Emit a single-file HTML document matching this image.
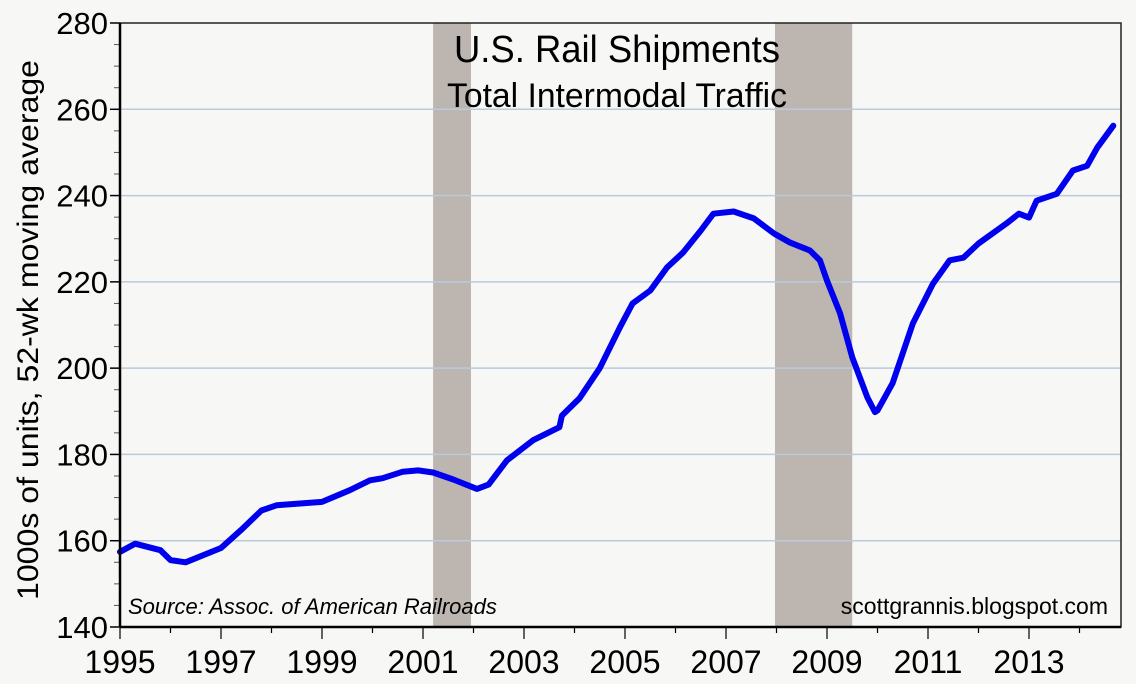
<!DOCTYPE html>
<html><head><meta charset="utf-8"><style>
html,body{margin:0;padding:0;background:#f7f7f5;}
svg{display:block;font-family:"Liberation Sans",sans-serif;}
</style></head><body>
<svg id="chart" width="1136" height="684" viewBox="0 0 1136 684">
<rect x="0" y="0" width="1136" height="684" fill="#f7f7f5"/>
<g id="rec"></g>
<g id="grid"></g>
<g id="series"></g>
<g id="axes"></g>
<text x="617" y="62" font-size="38" text-anchor="middle" textLength="326" lengthAdjust="spacingAndGlyphs">U.S. Rail Shipments</text>
<text x="617" y="107" font-size="34" text-anchor="middle" textLength="340" lengthAdjust="spacingAndGlyphs">Total Intermodal Traffic</text>
<text x="128" y="614" font-size="22" font-style="italic">Source: Assoc. of American Railroads</text>
<text x="1108" y="614" font-size="23" text-anchor="end">scottgrannis.blogspot.com</text>
<text transform="translate(38,330) rotate(-90)" font-size="30" text-anchor="middle" textLength="540" lengthAdjust="spacingAndGlyphs">1000s of units, 52-wk moving average</text>
</svg>
<script>
const years = [1995.0,1995.3,1995.8,1996.0,1996.3,1997.0,1997.4,1997.8,1998.1,1999.0,1999.55,1999.95,2000.2,2000.6,2000.9,2001.2,2001.6,2002.07,2002.3,2002.66,2003.18,2003.7,2003.75,2004.1,2004.5,2004.9,2005.15,2005.5,2005.83,2006.15,2006.5,2006.75,2007.15,2007.55,2007.95,2008.27,2008.66,2008.86,2009.0,2009.26,2009.5,2009.8,2009.95,2010.0,2010.3,2010.7,2011.1,2011.43,2011.7,2012.0,2012.55,2012.8,2013.0,2013.15,2013.55,2013.87,2014.15,2014.35,2014.67];
const values = [157.4,159.3,157.8,155.5,155.0,158.3,162.5,167.0,168.2,169.0,171.7,174.0,174.5,176.0,176.3,175.8,174.2,172.0,173.0,178.6,183.3,186.3,189.0,193.0,200.0,209.5,215.0,218.0,223.3,226.8,231.9,235.8,236.3,234.7,231.2,229.1,227.3,225.0,220.3,212.7,202.5,193.2,189.8,190.2,196.5,210.4,219.6,225.0,225.6,228.9,233.5,235.8,234.9,238.8,240.4,245.8,246.9,251.1,256.2];
const recessionStarts = [2001.2,2007.97];
const recessionEnds = [2001.95,2009.5];
const yTicks = [140,160,180,200,220,240,260,280];
const xTickLabels = [1995,1997,1999,2001,2003,2005,2007,2009,2011,2013];

const NS='http://www.w3.org/2000/svg';
const X0=120,X1=1121,YEAR0=1995,PXY=50.5;
const Y0=627,YT=23,VMIN=140,VMAX=280;
const xs=y=>X0+(y-YEAR0)*PXY;
const ys=v=>Y0-(v-VMIN)*(Y0-YT)/(VMAX-VMIN);
function mk(tag,attrs,parent){const e=document.createElementNS(NS,tag);for(const k in attrs)e.setAttribute(k,attrs[k]);parent.appendChild(e);return e;}
const rec=document.getElementById('rec'),grid=document.getElementById('grid'),series=document.getElementById('series'),axes=document.getElementById('axes');

recessionStarts.forEach((s,i)=>{
  const r=mk('rect',{x:xs(s),y:YT,width:xs(recessionEnds[i])-xs(s),height:Y0-YT,fill:'#bcb5b0'},rec);
  
  
});
yTicks.forEach(v=>{
  if(v>VMIN&&v<VMAX){
    const l=mk('line',{x1:X0,x2:X1,y1:ys(v),y2:ys(v),stroke:'#b9cbdc','stroke-width':1.5},grid);
    
    
  }
  const t=mk('text',{x:X0-12,y:ys(v)+11,'font-size':31,'text-anchor':'end'},axes);
  t.textContent=v;
  
  
  const tk=mk('line',{x1:X0-10,x2:X0,y1:ys(v),y2:ys(v),stroke:'#000','stroke-width':1.5},axes);
  
  
});
for(let v=VMIN+5;v<VMAX;v+=5){
  if(v%20===0)continue;
  const tk=mk('line',{x1:X0-6,x2:X0,y1:ys(v),y2:ys(v),stroke:'#555','stroke-width':1},axes);
  
  
}
for(let y=1995;y<=2014;y++){
  const major=xTickLabels.indexOf(y)>=0;
  const tk=mk('line',{x1:xs(y),x2:xs(y),y1:Y0,y2:Y0+(major?12:6),stroke:'#000','stroke-width':1.2},axes);
  
  
}
xTickLabels.forEach(y=>{
  const t=mk('text',{x:xs(y),y:Y0+46,'font-size':32,'text-anchor':'middle'},axes);
  t.textContent=y;
  
  
});
const frame=mk('path',{d:`M${X0},${YT} H${X1} V${Y0} H${X0} Z`,fill:'none',stroke:'#222','stroke-width':1.5},axes);


const lx=mk('line',{x1:X0,x2:X0,y1:YT,y2:Y0,stroke:'#000','stroke-width':2.5},axes);


const bx=mk('line',{x1:X0,x2:X1,y1:Y0,y2:Y0,stroke:'#000','stroke-width':2.5},axes);



const d=years.map((y,i)=>(i?'L':'M')+xs(y).toFixed(1)+','+ys(values[i]).toFixed(1)).join(' ');
const line=mk('path',{d:d,fill:'none',stroke:'#0000ee','stroke-width':6,'stroke-linejoin':'round','stroke-linecap':'round'},series);


</script>
</body></html>
